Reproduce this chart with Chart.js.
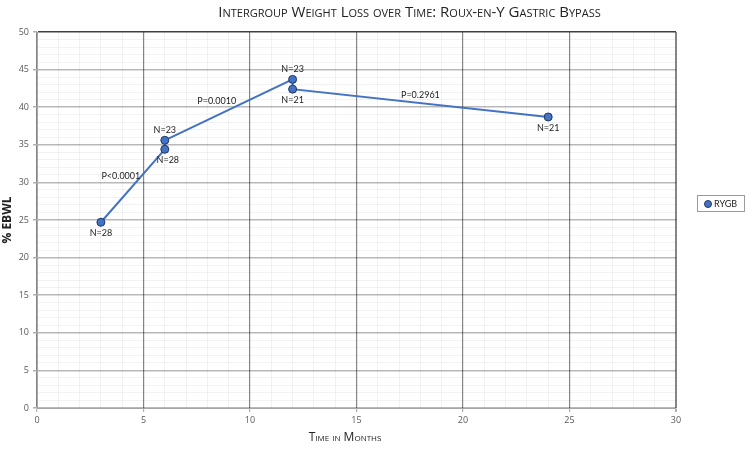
<!DOCTYPE html>
<html>
<head>
<meta charset="utf-8">
<script src="https://cdn.jsdelivr.net/npm/chart.js@4.4.1/dist/chart.umd.min.js"></script>
<style>
  html, body { margin: 0; padding: 0; background: #fff; }
  #wrap { position: relative; width: 749px; height: 450px; font-family: "Open Sans", sans-serif; }
  #judul { position: absolute; top: 1px; left: 70px; width: 679px; text-align: center; font-size: 15px; font-variant: small-caps; color: #222; }
  #judulX { position: absolute; top: 428px; left: 245px; width: 200px; text-align: center; font-size: 12px; font-variant: small-caps; color: #222; }
  #legenda { position: absolute; left: 697px; top: 195px; width: 48px; height: 17px; border: 1px solid #9a9a9a; font-family: Lato, sans-serif; font-size: 9px; line-height: 15px; color: #222; box-sizing: border-box; padding-left: 6px; }
  #legenda span { display: inline-block; width: 6px; height: 6px; border-radius: 50%; background: #4472C4; border: 1px solid #1f3864; vertical-align: -1px; margin-right: 2px; }
</style>
</head>
<body>
<div id="wrap">
  <canvas id="chartEbwl" width="749" height="450"></canvas>
  <div id="judul">Intergroup Weight Loss over Time: Roux-en-Y Gastric Bypass</div>
  <div id="judulX">Time in Months</div>
  <div id="legenda"><span></span>RYGB</div>
</div>
<script>
// Data
const bulan = [3, 6, 6, 12, 12, 24];
const ebwl = [24.7, 34.4, 35.6, 43.7, 42.4, 38.7];
const labelN = ["N=28", "N=28", "N=23", "N=23", "N=21", "N=21"];
const labelP = ["P<0.0001", "P=0.0010", "P=0.2961"];
const xTicks = [0, 5, 10, 15, 20, 25, 30];
const yTicks = [0, 5, 10, 15, 20, 25, 30, 35, 40, 45, 50];

// posisi label N: atas / bawah titik
const sisiN = ["bawah", "bawah", "atas", "atas", "bawah", "bawah"];
// label P ada di tengah segmen (index titik awal-akhir) + geser piksel
const segmenP = [[0, 1, -12, -10], [2, 3, -12, -9], [4, 5, 0, -8]];

const labelPlugin = {
  id: "labelPlugin",
  afterDatasetsDraw(chart) {
    const { ctx, scales } = chart;
    const sx = scales.x, sy = scales.y;
    ctx.save();
    ctx.font = "9px Lato, sans-serif";
    ctx.fillStyle = "#222";
    ctx.textAlign = "center";
    ctx.textBaseline = "middle";
    bulan.forEach((b, i) => {
      const px = sx.getPixelForValue(b);
      const py = sy.getPixelForValue(ebwl[i]);
      const dy = sisiN[i] === "atas" ? -10 : 11;
      const dx = i === 1 ? 3 : 0;
      ctx.fillText(labelN[i], px + dx, py + dy);
    });
    segmenP.forEach((s, i) => {
      const x1 = sx.getPixelForValue(bulan[s[0]]), y1 = sy.getPixelForValue(ebwl[s[0]]);
      const x2 = sx.getPixelForValue(bulan[s[1]]), y2 = sy.getPixelForValue(ebwl[s[1]]);
      ctx.fillText(labelP[i], (x1 + x2) / 2 + s[2], (y1 + y2) / 2 + s[3]);
    });
    ctx.restore();
  },
};

const minor = "rgba(0,0,0,0.05)";

const ctx = document.getElementById("chartEbwl").getContext("2d");
new Chart(ctx, {
  type: "scatter",
  data: {
    datasets: [
      {
        label: "RYGB",
        data: bulan.map((b, i) => ({ x: b, y: ebwl[i] })),
        showLine: true,
        borderColor: "#4472C4",
        borderWidth: 2,
        pointRadius: 4,
        pointBackgroundColor: "#4472C4",
        pointBorderColor: "#1f3864",
        pointBorderWidth: 1,
        tension: 0,
      },
    ],
  },
  options: {
    responsive: false,
    animation: false,
    layout: { padding: { left: 0, right: 73, top: 32, bottom: 0 } },
    plugins: {
      legend: { display: false },
      tooltip: { enabled: false },
    },
    scales: {
      x: {
        type: "linear",
        min: 0,
        max: 30,
        afterFit(scale) { scale.height = 42; },
        afterBuildTicks(scale) {
          const t = [];
          for (let v = 0; v <= 30; v++) t.push({ value: v });
          scale.ticks = t;
        },
        ticks: {
          autoSkip: false,
          maxRotation: 0,
          padding: 3,
          color: "#595959",
          font: { size: 9, family: "'Open Sans', sans-serif" },
          callback: (v) => (xTicks.includes(v) ? v : ""),
        },
        grid: {
          tickLength: 4,
          color: (c) => {
            const v = c.tick ? c.tick.value : 0;
            return v % 5 === 0 ? "#858585" : minor;
          },
          lineWidth: (c) => {
            const v = c.tick ? c.tick.value : 0;
            if (v === 30) return 2;
            return v % 5 === 0 ? 1.2 : 1;
          },
          tickColor: (c) => (c.tick && c.tick.value % 5 === 0 ? "#b0b0b0" : "rgba(0,0,0,0)"),
        },
        border: { color: "#a6a6a6", width: 1 },
      },
      y: {
        min: 0,
        max: 50,
        afterFit(scale) { scale.width = 37; },
        afterBuildTicks(scale) {
          const t = [];
          for (let v = 0; v <= 50; v++) t.push({ value: v });
          scale.ticks = t;
        },
        title: {
          display: true,
          text: "% EBWL",
          color: "#222",
          font: { size: 12, weight: "bold", family: "'Open Sans', sans-serif" },
          padding: 0,
        },
        ticks: {
          autoSkip: false,
          padding: 4,
          color: "#595959",
          font: { size: 9, family: "'Open Sans', sans-serif" },
          callback: (v) => (yTicks.includes(v) ? v : ""),
        },
        grid: {
          tickLength: 4,
          color: (c) => {
            const v = c.tick ? c.tick.value : 0;
            if (v === 50) return "#404040";
            return v % 5 === 0 ? "rgba(0,0,0,0.28)" : minor;
          },
          lineWidth: (c) => {
            const v = c.tick ? c.tick.value : 0;
            return v % 5 === 0 ? 1.5 : 1;
          },
          tickColor: (c) => (c.tick && c.tick.value % 5 === 0 ? "#b0b0b0" : "rgba(0,0,0,0)"),
        },
        border: { color: "#a6a6a6", width: 1 },
      },
    },
  },
  plugins: [labelPlugin],
});
</script>
</body>
</html>
